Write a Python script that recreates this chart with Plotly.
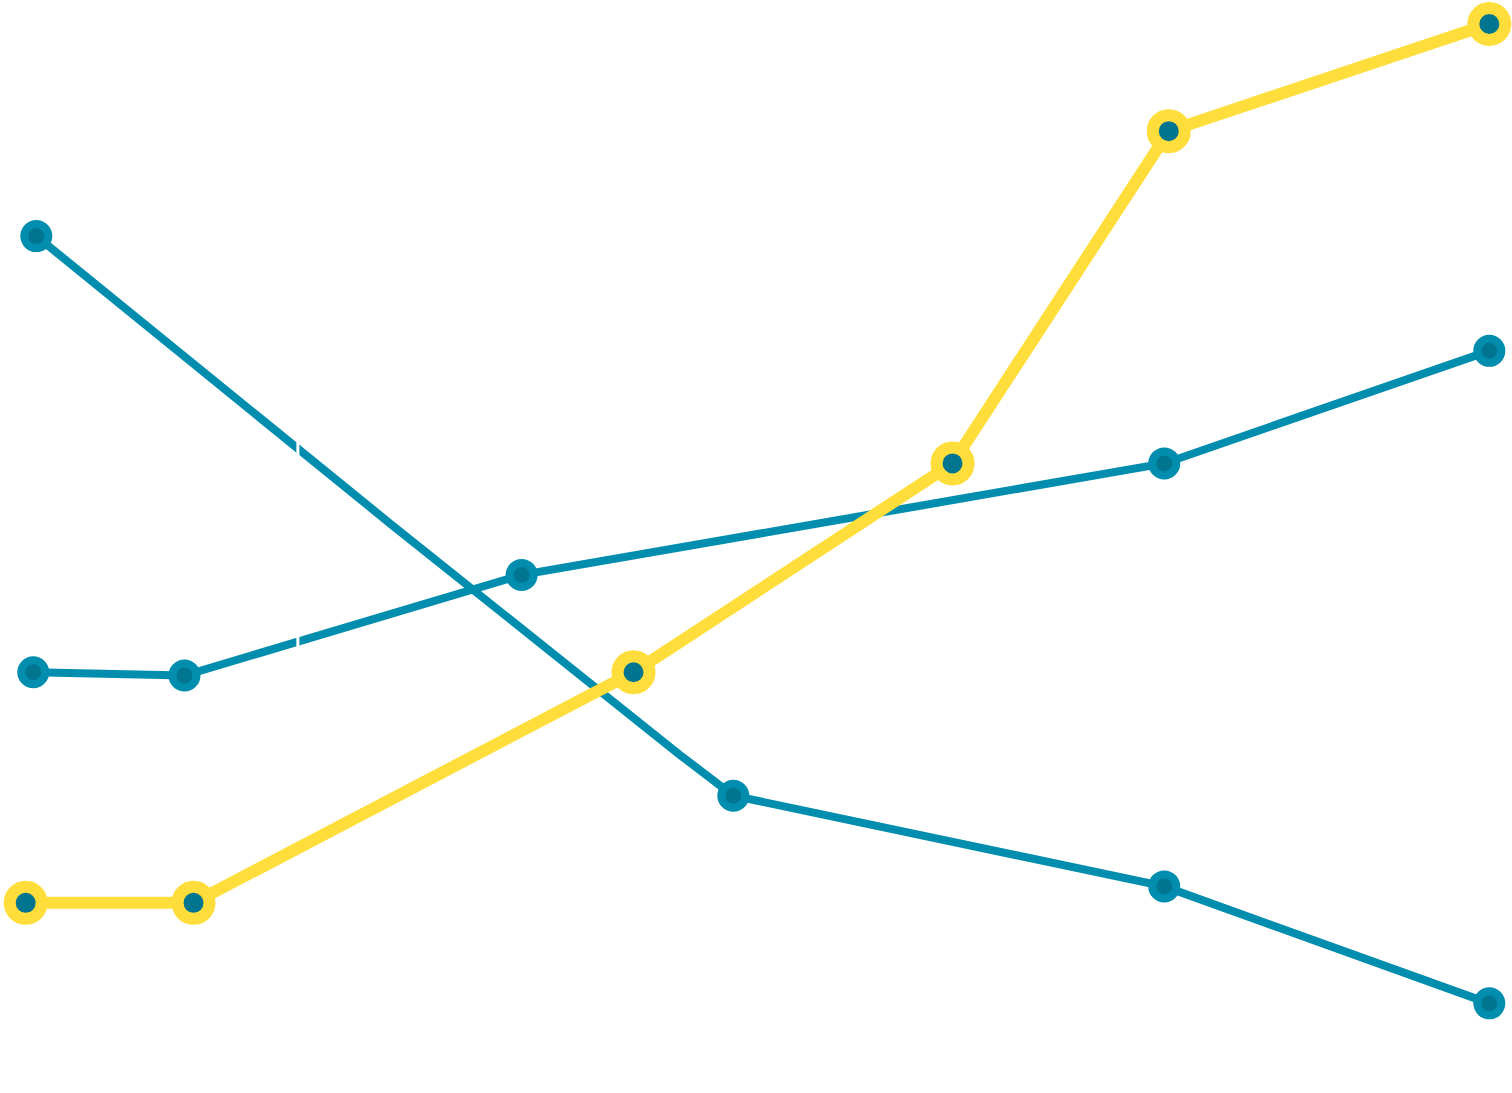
import plotly.graph_objects as go

# Data (abstract units: x 0-100 across, y 0-100 bottom-to-top)
yellow_x = [1.7, 12.8, 41.9, 63.0, 77.3, 98.5]
yellow_y = [17.4, 17.4, 38.5, 57.6, 88.0, 97.8]

blue_up_x = [2.2, 12.2, 34.5, 77.0, 98.5]
blue_up_y = [38.5, 38.2, 47.4, 57.6, 67.9]

blue_down_x = [2.4, 12.1, 25.8, 45.0, 48.5, 77.0, 98.5]
blue_down_y = [78.4, 67.5, 52.1, 30.9, 27.2, 18.9, 8.2]
blue_down_marker = [True, False, False, False, True, True, True]

divider_x = 19.7

BLUE = "#008DAE"
BLUE_DARK = "#007590"
YELLOW = "#FFDE3B"

fig = go.Figure()

fig.add_trace(go.Scatter(
    x=blue_down_x, y=blue_down_y, mode="lines",
    line=dict(color=BLUE, width=8), hoverinfo="skip", showlegend=False))
fig.add_trace(go.Scatter(
    x=[x for x, m in zip(blue_down_x, blue_down_marker) if m],
    y=[y for y, m in zip(blue_down_y, blue_down_marker) if m],
    mode="markers",
    marker=dict(size=24, color=BLUE_DARK, line=dict(color=BLUE, width=8)),
    showlegend=False))

fig.add_trace(go.Scatter(
    x=blue_up_x, y=blue_up_y, mode="lines+markers",
    line=dict(color=BLUE, width=8),
    marker=dict(size=24, color=BLUE_DARK, line=dict(color=BLUE, width=8)),
    showlegend=False))

fig.add_trace(go.Scatter(
    x=yellow_x, y=yellow_y, mode="lines+markers",
    line=dict(color=YELLOW, width=12),
    marker=dict(size=32, color=BLUE_DARK, line=dict(color=YELLOW, width=12)),
    showlegend=False))

fig.add_shape(type="line", xref="x", yref="y",
              x0=divider_x, x1=divider_x, y0=39, y1=61,
              line=dict(color="white", width=3), layer="above")

fig.update_layout(
    width=1512, height=1093,
    margin=dict(l=0, r=0, t=0, b=0),
    paper_bgcolor="white", plot_bgcolor="white",
    xaxis=dict(range=[0, 100], visible=False),
    yaxis=dict(range=[0, 100], visible=False),
)

fig.write_html(
    "out.html",
    config={"displayModeBar": False},
    post_script="document.body.style.margin='0';document.body.style.overflow='hidden';",
)
